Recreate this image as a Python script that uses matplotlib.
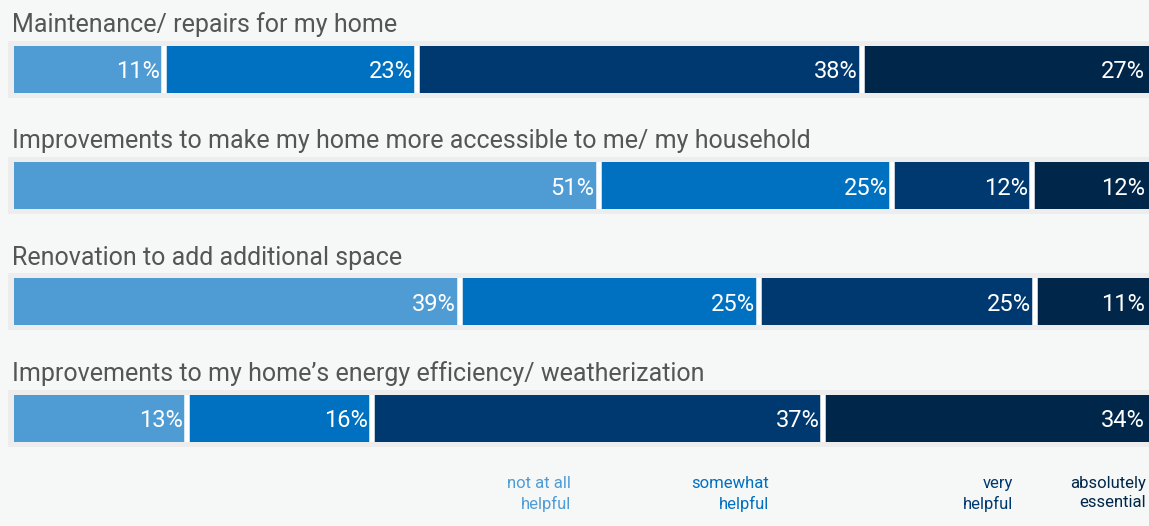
import matplotlib
matplotlib.use("Agg")
import matplotlib.pyplot as plt
import numpy as np

# Questions (une ligne par question)
questions = [
    "Maintenance/ repairs for my home",
    "Improvements to make my home more accessible to me/ my household",
    "Renovation to add additional space",
    "Improvements to my home\u2019s energy efficiency/ weatherization",
]
# Largeurs des segments telles que dessinées (en %)
bar_widths = [
    [13.2, 22.3, 39.2, 25.3],
    [51.5, 25.9, 12.3, 10.3],
    [39.3, 26.3, 24.4, 10.0],
    [15.2, 16.3, 39.8, 28.7],
]
# Etiquettes affichées dans les segments
labels = [
    [11, 23, 38, 27],
    [51, 25, 12, 12],
    [39, 25, 25, 11],
    [13, 16, 37, 34],
]
categories = ["not at all\nhelpful", "somewhat\nhelpful", "very\nhelpful", "absolutely\nessential"]
colors = ["#4f9cd5", "#0070c0", "#00396f", "#00264a"]

BG = "#f6f7f7"
TRACK = "#ededed"
FONT = "Roboto"

fig = plt.figure(figsize=(11.49, 5.26), dpi=100, facecolor=BG)
ax = fig.add_axes([0, 0, 1, 1], facecolor=BG)
ax.set_xlim(-1.233, 100)
ax.set_ylim(3.927, -0.596)
ax.axis("off")

for i, (q, widths, labs) in enumerate(zip(questions, bar_widths, labels)):
    # bande grise derrière la barre
    ax.barh(i, 105, left=-0.53, height=0.49, color=TRACK, zorder=1)
    lefts = np.concatenate([[0], np.cumsum(widths)[:-1]])
    ax.barh(i, widths, left=lefts, height=0.404, color=colors, zorder=2)
    # séparateurs blancs entre les segments
    ax.vlines(np.cumsum(widths)[:-1], i - 0.202, i + 0.202, color="white", lw=3.96, zorder=3)
    for left, w, lab in zip(lefts, widths, labs):
        end = min(left + w, 100)
        ax.annotate(f"{lab}%", (end, i), xytext=(-4, 0), textcoords="offset pixels",
                    ha="right", va="center_baseline", color="white", fontsize=17,
                    family=FONT, zorder=4)
    ax.text(-0.176, i - 0.321, q, ha="left", va="baseline", fontsize=18,
            color="#555555", family=FONT)

# légende en texte coloré en bas
legend_x = [571, 769, 1013, 1146]
for x, cat, c in zip(legend_x, categories, colors):
    fig.text(x / 1149, 1 - 476 / 526, cat, ha="right", va="top", fontsize=12,
             color=c, family=FONT, linespacing=1.35)

fig.savefig("out.png", dpi=100, facecolor=BG)
